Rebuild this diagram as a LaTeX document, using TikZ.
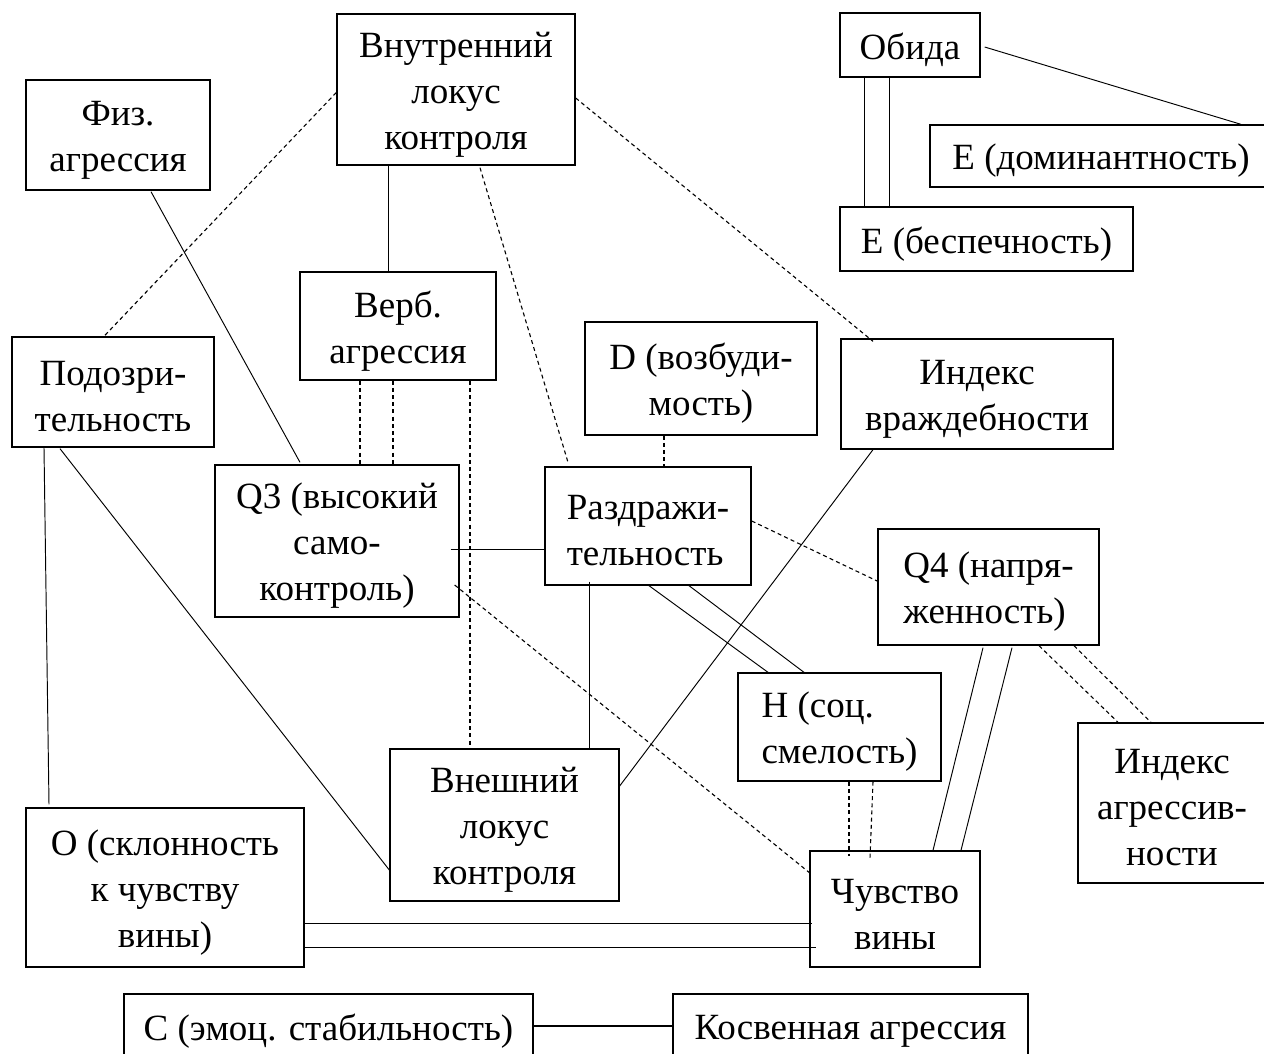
\documentclass[tikz,border=0pt]{standalone}
\usepackage{fontspec}
\setmainfont{Liberation Serif}
\newcommand{\bx}[7]{%
  \node[box, minimum width=#4pt, minimum height=#5pt] (#1) at (#2,#3) {};
  \node[txt, align=#6] (#1-t) at ([yshift=-5pt]#1.center) {#7};}
\begin{document}
\begin{tikzpicture}[x=1pt,y=-1pt,
  box/.style={draw, line width=1.35pt, inner sep=0pt},
  txt/.style={inner sep=0pt, font=\fontsize{37}{46}\selectfont},
  conn/.style={line width=0.95pt},
  dconn/.style={line width=1.1pt, dash pattern=on 4pt off 3.2pt}]
\useasboundingbox (0,0) rectangle (1264,1053);
% boxes
\bx{vnutr}{456}{89.5}{238}{151}{center}{Внутренний\\локус\\контроля}
\bx{fiz}{118}{135}{184}{110}{center}{Физ.\\агрессия}
\bx{verb}{398}{326}{196}{108}{center}{Верб.\\агрессия}
\bx{podoz}{113}{392}{202}{110}{center}{Подозри-\\тельность}
\bx{q3}{337}{541}{244}{152}{center}{Q3 (высокий\\само-\\контроль)}
\bx{razd}{648}{526}{206}{118}{left}{Раздражи-\\тельность}
\bx{dvoz}{701}{378.5}{232}{113}{center}{D (возбуди-\\мость)}
\bx{ivr}{977}{394}{272}{110}{center}{Индекс\\враждебности}
\bx{obida}{910}{45}{140}{64}{center}{Обида}
\bx{edom}{1101}{156}{342}{62}{center}{Е (доминантность)}
\bx{ebesp}{986.5}{239}{293}{64}{center}{Е (беспечность)}
\bx{q4}{988.5}{587}{221}{116}{left}{Q4 (напря-\\женность)}
\bx{hsoc}{839.5}{727}{203}{108}{left}{Н (соц.\\смелость)}
\bx{iagr}{1172}{803}{188}{160}{center}{Индекс\\агрессив-\\ности}
\bx{chv}{895}{909}{170}{116}{center}{Чувство\\вины}
\bx{vnesh}{504.5}{825}{229}{152}{center}{Внешний\\локус\\контроля}
\bx{oskl}{165}{887.5}{278}{159}{center}{О (склонность\\к чувству\\вины)}
\bx{cemo}{328.5}{1026}{409}{64}{center}{С (эмоц. стабильность)}
\bx{kosv}{850.5}{1026}{355}{64}{center}{Косвенная агрессия}
% connectors
\draw[dconn] ([shift={(0,3)}]vnutr.west) -- ([shift={(-9,0)}]podoz.north);
\draw[conn] ([shift={(-68,0)}]vnutr.south) -- ([shift={(-10,0)}]verb.north);
\draw[dconn] ([shift={(24,2)}]vnutr.south) -- ([shift={(-80,-4)}]razd.north);
\draw[dconn] ([shift={(0,8.5)}]vnutr.east) -- ([shift={(-104,3)}]ivr.north);
\draw[conn] ([shift={(33,1)}]fiz.south) -- ([shift={(-37,-2)}]q3.north);
\draw[dconn] ([shift={(-38,0)}]verb.south) -- ([shift={(23,0)}]q3.north);
\draw[dconn] ([shift={(-5,0)}]verb.south) -- ([shift={(56,0)}]q3.north);
\draw[dconn] ([shift={(72,0)}]verb.south) -- ([shift={(-34.5,0)}]vnesh.north);
\draw[conn] ([shift={(-69,0)}]podoz.south) -- ([shift={(-116,-3)}]oskl.north);
\draw[conn] ([shift={(-53,1)}]podoz.south) -- ([shift={(0,45)}]vnesh.west);
\draw[conn] ([shift={(-9,8)}]q3.east) -- ([shift={(0,23)}]razd.west);
\draw[dconn] ([shift={(-5,44)}]q3.east) -- ([shift={(3,-34)}]chv.west);
\draw[dconn] ([shift={(-37,0)}]dvoz.south) -- ([shift={(16,0)}]razd.north);
\draw[dconn] ([shift={(0,-5)}]razd.east) -- ([shift={(4,-4)}]q4.west);
\draw[conn] ([shift={(1,0)}]razd.south) -- ([shift={(-71.5,0)}]hsoc.north);
\draw[conn] ([shift={(41,0)}]razd.south) -- ([shift={(-35.5,0)}]hsoc.north);
\draw[conn] ([shift={(-59,-4)}]razd.south) -- ([shift={(84.5,0)}]vnesh.north);
\draw[conn] ([shift={(-104,0)}]ivr.south) -- ([shift={(0,-39)}]vnesh.east);
\draw[conn] ([shift={(-5.5,2)}]q4.south) -- ([shift={(38,0)}]chv.north);
\draw[conn] ([shift={(23.5,2)}]q4.south) -- ([shift={(66,0)}]chv.north);
\draw[dconn] ([shift={(50.5,0)}]q4.south) -- ([shift={(-54,0)}]iagr.north);
\draw[dconn] ([shift={(85.5,0)}]q4.south) -- ([shift={(-21,0)}]iagr.north);
\draw[dconn] ([shift={(9.5,0)}]hsoc.south) -- ([shift={(-46,6)}]chv.north);
\draw[dconn] ([shift={(33.5,0)}]hsoc.south) -- ([shift={(-25,8)}]chv.north);
\draw[conn] ([shift={(0,35.5)}]oskl.east) -- ([shift={(3,14)}]chv.west);
\draw[conn] ([shift={(0,59.5)}]oskl.east) -- ([shift={(7,38)}]chv.west);
\draw[line width=1.8pt] (cemo.east) -- (kosv.west);
\draw[conn] ([shift={(4,2)}]obida.east) -- ([shift={(140,0)}]edom.north);
\draw[conn] ([shift={(-46,0)}]obida.south) -- ([shift={(-122.5,0)}]ebesp.north);
\draw[conn] ([shift={(-21,0)}]obida.south) -- ([shift={(-97.5,2)}]ebesp.north);
\end{tikzpicture}
\end{document}
